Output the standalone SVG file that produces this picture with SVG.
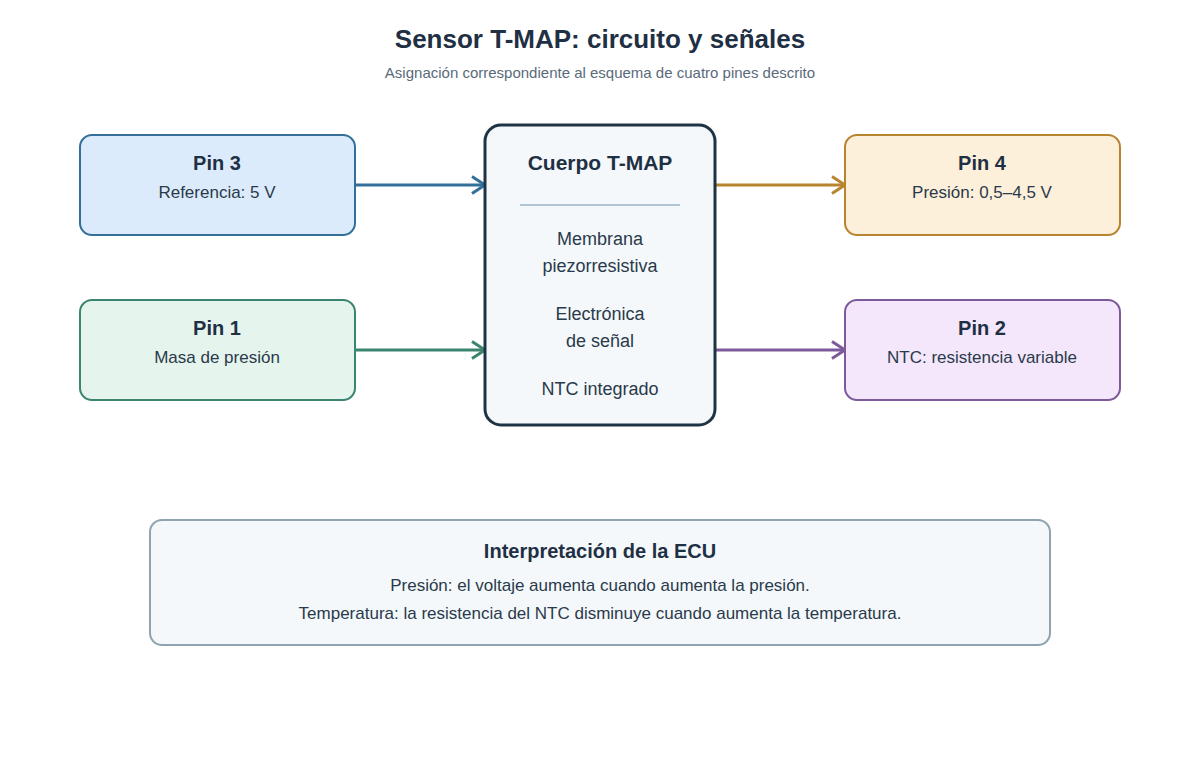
<svg xmlns="http://www.w3.org/2000/svg" width="1200" height="760" viewBox="0 0 1200 760">
<style>
text{font-family:"Liberation Sans",Arial,sans-serif;text-anchor:middle;fill:#1f3044}
.t{font-size:20px;font-weight:bold}
.s{font-size:17px;fill:#2a3a4a}
.c{font-size:18px;fill:#2a3a4a}
.conn{fill:none;stroke-width:3}
</style>
<defs>
<marker id="mb" markerWidth="18" markerHeight="20" refX="15" refY="10" orient="auto" markerUnits="userSpaceOnUse"><path d="M2,1.5 L15,10 L2,18.5" fill="none" stroke="#336f99" stroke-width="3"/></marker>
<marker id="mg" markerWidth="18" markerHeight="20" refX="15" refY="10" orient="auto" markerUnits="userSpaceOnUse"><path d="M2,1.5 L15,10 L2,18.5" fill="none" stroke="#3b8470" stroke-width="3"/></marker>
<marker id="mo" markerWidth="18" markerHeight="20" refX="15" refY="10" orient="auto" markerUnits="userSpaceOnUse"><path d="M2,1.5 L15,10 L2,18.5" fill="none" stroke="#b8842f" stroke-width="3"/></marker>
<marker id="mp" markerWidth="18" markerHeight="20" refX="15" refY="10" orient="auto" markerUnits="userSpaceOnUse"><path d="M2,1.5 L15,10 L2,18.5" fill="none" stroke="#7d5a9c" stroke-width="3"/></marker>
</defs>
<rect width="1200" height="760" fill="#ffffff"/>
<text x="600" y="48" style="font-size:26px;font-weight:bold">Sensor T-MAP: circuito y señales</text>
<text x="600" y="78" style="font-size:15px;fill:#5a6a7a">Asignación correspondiente al esquema de cuatro pines descrito</text>

<g id="connectors">
<path class="conn" d="M356,185 H485" stroke="#336f99" marker-end="url(#mb)"/>
<path class="conn" d="M356,350 H485" stroke="#3b8470" marker-end="url(#mg)"/>
<path class="conn" d="M716,185 H845" stroke="#b8842f" marker-end="url(#mo)"/>
<path class="conn" d="M716,350 H845" stroke="#7d5a9c" marker-end="url(#mp)"/>
</g>

<g id="pin3">
<rect x="80" y="135" width="275" height="100" rx="12" fill="#dcebfb" stroke="#336f99" stroke-width="2"/>
<text class="t" x="217" y="170">Pin 3</text>
<text class="s" x="217" y="198">Referencia: 5 V</text>
</g>
<g id="pin1">
<rect x="80" y="300" width="275" height="100" rx="12" fill="#e6f4ee" stroke="#3b8470" stroke-width="2"/>
<text class="t" x="217" y="335">Pin 1</text>
<text class="s" x="217" y="363">Masa de presión</text>
</g>
<g id="cuerpo">
<rect x="485" y="125" width="230" height="300" rx="16" fill="#f4f8fb" stroke="#1e3444" stroke-width="3"/>
<text class="t" x="600" y="170" style="font-size:21px">Cuerpo T-MAP</text>
<line x1="520" y1="205" x2="680" y2="205" stroke="#9bb4c4" stroke-width="1.5"/>
<text class="c" x="600" y="245">Membrana</text>
<text class="c" x="600" y="272">piezorresistiva</text>
<text class="c" x="600" y="320">Electrónica</text>
<text class="c" x="600" y="347">de señal</text>
<text class="c" x="600" y="395">NTC integrado</text>
</g>
<g id="pin4">
<rect x="845" y="135" width="275" height="100" rx="12" fill="#fdf0db" stroke="#b8842f" stroke-width="2"/>
<text class="t" x="982" y="170">Pin 4</text>
<text class="s" x="982" y="198">Presión: 0,5–4,5 V</text>
</g>
<g id="pin2">
<rect x="845" y="300" width="275" height="100" rx="12" fill="#f4e6fb" stroke="#7d5a9c" stroke-width="2"/>
<text class="t" x="982" y="335">Pin 2</text>
<text class="s" x="982" y="363">NTC: resistencia variable</text>
</g>
<g id="ecu">
<rect x="150" y="520" width="900" height="125" rx="12" fill="#f4f8fb" stroke="#8fa4b0" stroke-width="2"/>
<text class="t" x="600" y="558">Interpretación de la ECU</text>
<text class="s" x="600" y="591">Presión: el voltaje aumenta cuando aumenta la presión.</text>
<text class="s" x="600" y="619">Temperatura: la resistencia del NTC disminuye cuando aumenta la temperatura.</text>
</g>
</svg>
